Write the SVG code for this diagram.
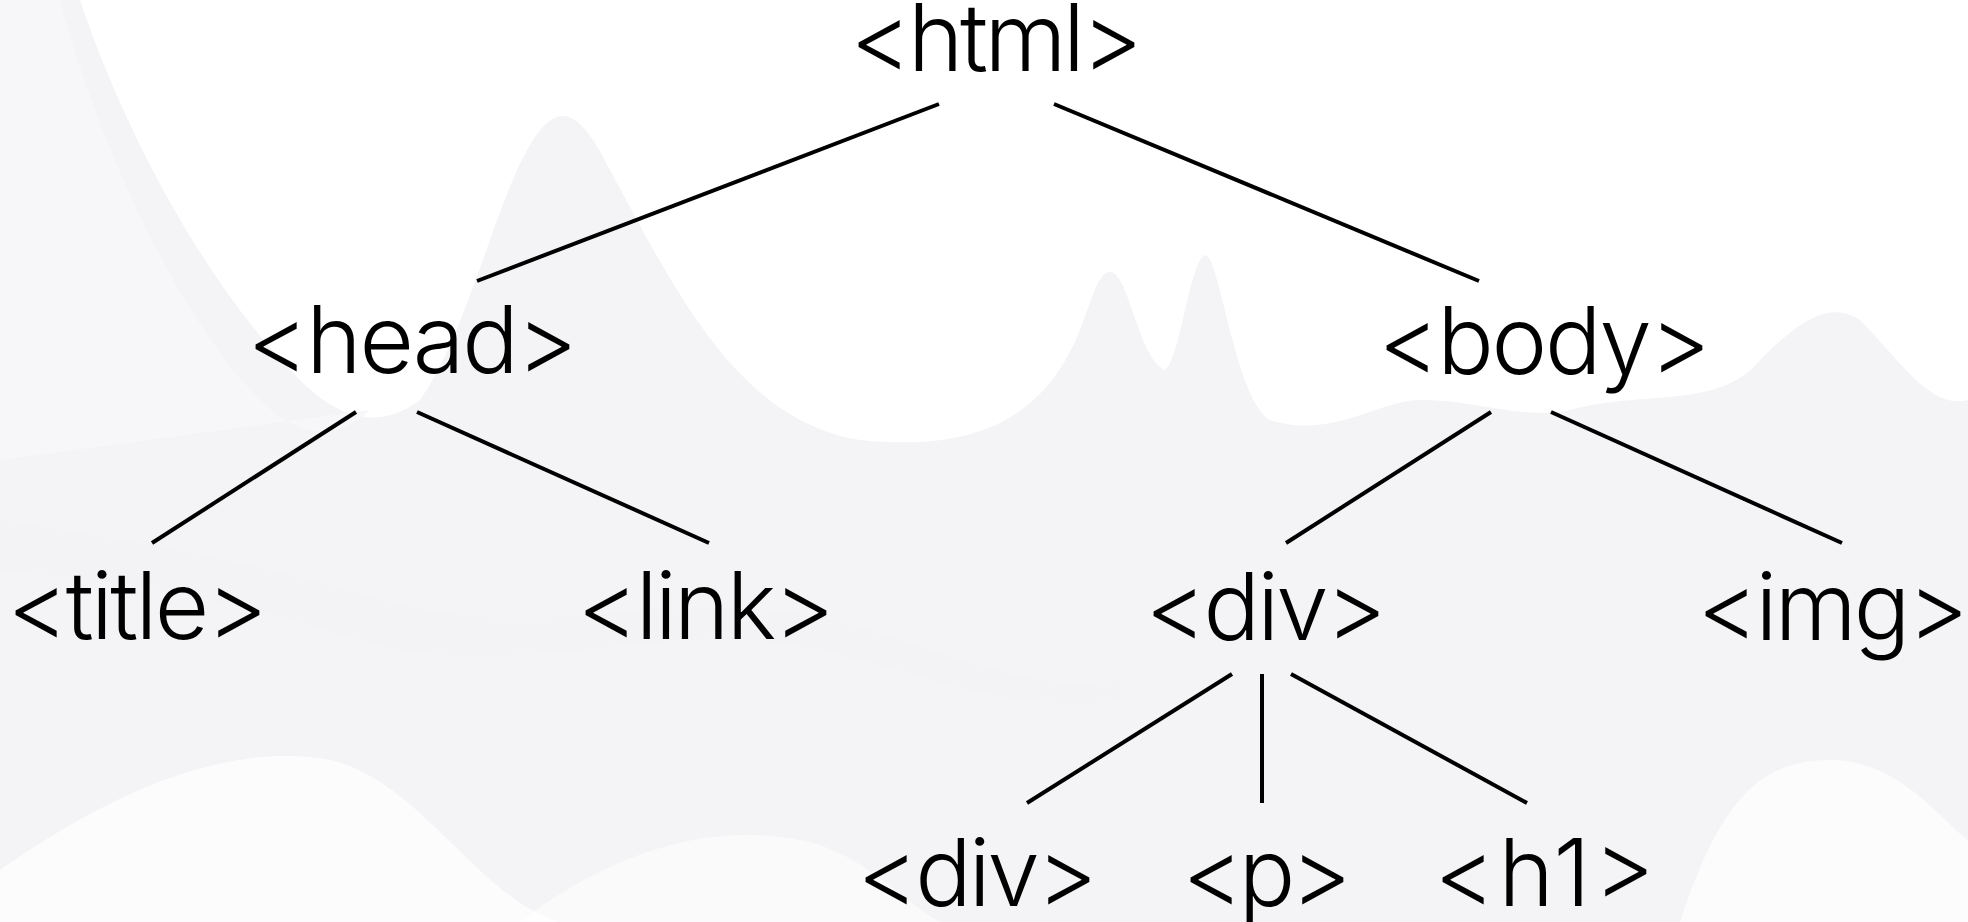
<svg xmlns="http://www.w3.org/2000/svg" width="1968" height="922" viewBox="0 0 1968 922">
<style>
.t{font-family:Inter,"Open Sans","Liberation Sans",sans-serif;font-weight:300;font-size:94px;fill:#000}
.c line{stroke:#000;stroke-width:4;stroke-linecap:butt}
</style>
<g id="background">
<rect x="0" y="0" width="1968" height="922" fill="#ffffff"/>
<path d="M0,0 L80,0 C120,120 200,280 300,380 C340,420 380,430 420,400 C470,330 500,180 540,130 C565,100 585,120 610,170 C680,300 740,420 860,440 C960,450 1040,430 1080,330 C1095,290 1100,270 1112,272 C1130,280 1140,360 1165,370 C1180,360 1190,260 1205,255 C1220,255 1235,400 1270,420 C1330,440 1380,400 1420,400 C1480,400 1520,420 1570,410 C1640,390 1720,410 1760,360 C1800,320 1830,300 1860,320 C1900,360 1930,410 1968,400 L1968,922 L0,922 Z" fill="#f4f4f6"/>
<path d="M0,0 L60,0 C100,150 180,320 260,400 C300,440 340,440 370,410 L0,460 Z" fill="#f7f7f9"/>
<path d="M0,870 C100,800 220,740 330,760 C420,780 480,900 560,922 L0,922 Z" fill="#ffffff" opacity="0.75"/>
<path d="M520,922 C600,860 700,820 800,840 C860,850 900,900 940,922 Z" fill="#ffffff" opacity="0.5"/>
<path d="M1680,922 C1720,800 1760,760 1830,760 C1900,760 1940,820 1968,840 L1968,922 Z" fill="#ffffff" opacity="0.75"/>
<path d="M0,520 C120,540 250,560 380,600 C520,640 640,600 760,610 C900,620 1000,700 1120,680 L1120,700 C1000,720 880,650 760,640 C620,630 500,680 360,640 C240,600 120,580 0,570 Z" fill="#f1f1f3" opacity="0.5"/>
</g>
<g class="c" id="connectors">
<line x1="939" y1="104" x2="477" y2="281"/>
<line x1="1054" y1="104" x2="1479" y2="281"/>
<line x1="356" y1="412" x2="152" y2="543"/>
<line x1="417" y1="412" x2="709" y2="543"/>
<line x1="1491" y1="412" x2="1286" y2="543"/>
<line x1="1551" y1="412" x2="1842" y2="543"/>
<line x1="1232" y1="674" x2="1027" y2="803"/>
<line x1="1262" y1="674" x2="1262" y2="803"/>
<line x1="1291" y1="674" x2="1527" y2="803"/>
</g>
<g id="n-html"><text class="t" x="850" y="71" textLength="293">&lt;html&gt;</text></g>
<g id="n-head"><text class="t" x="247" y="373" textLength="331">&lt;head&gt;</text></g>
<g id="n-body"><text class="t" x="1378" y="374" textLength="333">&lt;body&gt;</text></g>
<g id="n-title"><text class="t" x="7" y="639" textLength="261">&lt;title&gt;</text></g>
<g id="n-link"><text class="t" x="577" y="639" textLength="258">&lt;link&gt;</text></g>
<g id="n-div"><text class="t" x="1145" y="640" textLength="242">&lt;div&gt;</text></g>
<g id="n-img"><text class="t" x="1697" y="640" textLength="272">&lt;img&gt;</text></g>
<g id="n-div2"><text class="t" x="857" y="906" textLength="241">&lt;div&gt;</text></g>
<g id="n-p"><text class="t" x="1182" y="906" textLength="170">&lt;p&gt;</text></g>
<g id="n-h1"><text class="t" x="1434" y="906" textLength="221">&lt;h1&gt;</text></g>
</svg>
